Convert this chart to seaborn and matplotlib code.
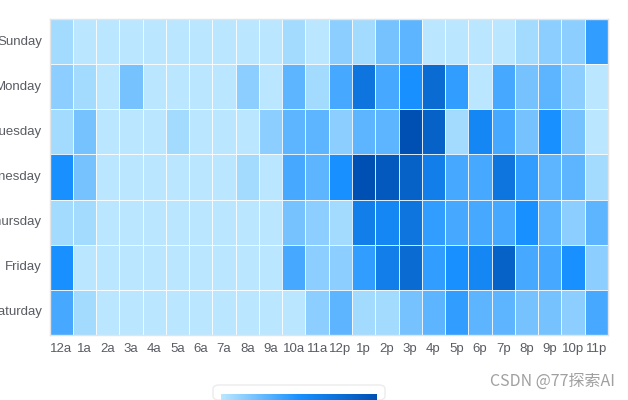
import numpy as np
import pandas as pd
import seaborn as sns
import matplotlib
matplotlib.use("Agg")
import matplotlib.pyplot as plt
from matplotlib.colors import LinearSegmentedColormap
from matplotlib.patches import FancyBboxPatch
import matplotlib as mpl

hours = ['12a', '1a', '2a', '3a', '4a', '5a', '6a', '7a', '8a', '9a', '10a', '11a',
         '12p', '1p', '2p', '3p', '4p', '5p', '6p', '7p', '8p', '9p', '10p', '11p']
days = ['Sunday', 'Monday', 'Tuesday', 'Wednesday', 'Thursday', 'Friday', 'Saturday']

sunday    = [1, 0, 0, 0, 0, 0, 0, 0, 0, 0, 1, 0, 2, 1, 3, 4, 0, 0, 0, 0, 1, 2, 2, 6]
monday    = [2, 1, 0, 3, 0, 0, 0, 0, 2, 0, 4, 1, 5, 10, 5, 7, 11, 6, 0, 5, 3, 4, 2, 0]
tuesday   = [1, 3, 0, 0, 0, 1, 0, 0, 0, 2, 4, 4, 2, 4, 4, 14, 12, 1, 8, 5, 3, 7, 3, 0]
wednesday = [7, 3, 0, 0, 0, 0, 0, 0, 1, 0, 5, 4, 7, 14, 13, 12, 9, 5, 5, 10, 6, 4, 4, 1]
thursday  = [1, 1, 0, 0, 0, 0, 0, 0, 0, 0, 3, 2, 1, 9, 8, 10, 6, 5, 5, 5, 7, 4, 2, 4]
friday    = [7, 0, 0, 0, 0, 0, 0, 0, 0, 0, 5, 2, 2, 6, 9, 11, 6, 7, 8, 12, 5, 5, 7, 2]
saturday  = [5, 1, 0, 0, 0, 0, 0, 0, 0, 0, 0, 2, 4, 1, 1, 3, 4, 6, 4, 4, 3, 3, 2, 5]

df = pd.DataFrame([sunday, monday, tuesday, wednesday, thursday, friday, saturday],
                  index=days, columns=hours)

cmap = LinearSegmentedColormap.from_list('blues', ['#bae7ff', '#1890ff', '#0050b3'])
vmin, vmax = 0, 14

sns.set_style('white')
plt.rcParams['font.family'] = ['Liberation Sans', 'DejaVu Sans']

fig = plt.figure(figsize=(6.28, 4.0), dpi=100)
W, H = 628, 400
ax = fig.add_axes([49.5 / W, (H - 335) / H, (608 - 49.5) / W, (335 - 19) / H])

sns.heatmap(df, ax=ax, cmap=cmap, vmin=vmin, vmax=vmax, cbar=False,
            linewidths=0.7, linecolor=(1, 1, 1, 0.85))

for s in ax.spines.values():
    s.set_visible(True)
    s.set_color('#e4e4e4')
    s.set_linewidth(1)

ax.tick_params(axis='both', length=0, labelsize=9.5, colors='#5a5c63')
ax.tick_params(axis='y', pad=5.5)
ax.tick_params(axis='x', pad=6)
ax.set_yticklabels(days, rotation=0, ha='right')
ax.set_xticklabels(hours, rotation=0)
ax.set_xlabel('')
ax.set_ylabel('')

# visual map box and gradient bar
box = FancyBboxPatch((213 / W, 0), (385 - 213) / W, (H - 393) / H + 0.02,
                     boxstyle='round,pad=0,rounding_size=0.01',
                     transform=fig.transFigure, facecolor='white',
                     edgecolor='#ececec', linewidth=1, zorder=-1)
fig.patches.append(box)
cax = fig.add_axes([221 / W, 0, (377 - 221) / W, (H - 394) / H])
cax.set_zorder(5)
cb = fig.colorbar(mpl.cm.ScalarMappable(norm=mpl.colors.Normalize(vmin, vmax), cmap=cmap),
                  cax=cax, orientation='horizontal')
cb.outline.set_visible(False)
cb.set_ticks([])

fig.text(615 / W, 1 - 381 / H, 'CSDN @77探索AI', ha='right', va='center',
         fontsize=11.5, color='#a0a0a0',
         family=['Noto Sans CJK SC', 'DejaVu Sans'])

fig.savefig('out.png', dpi=100)
